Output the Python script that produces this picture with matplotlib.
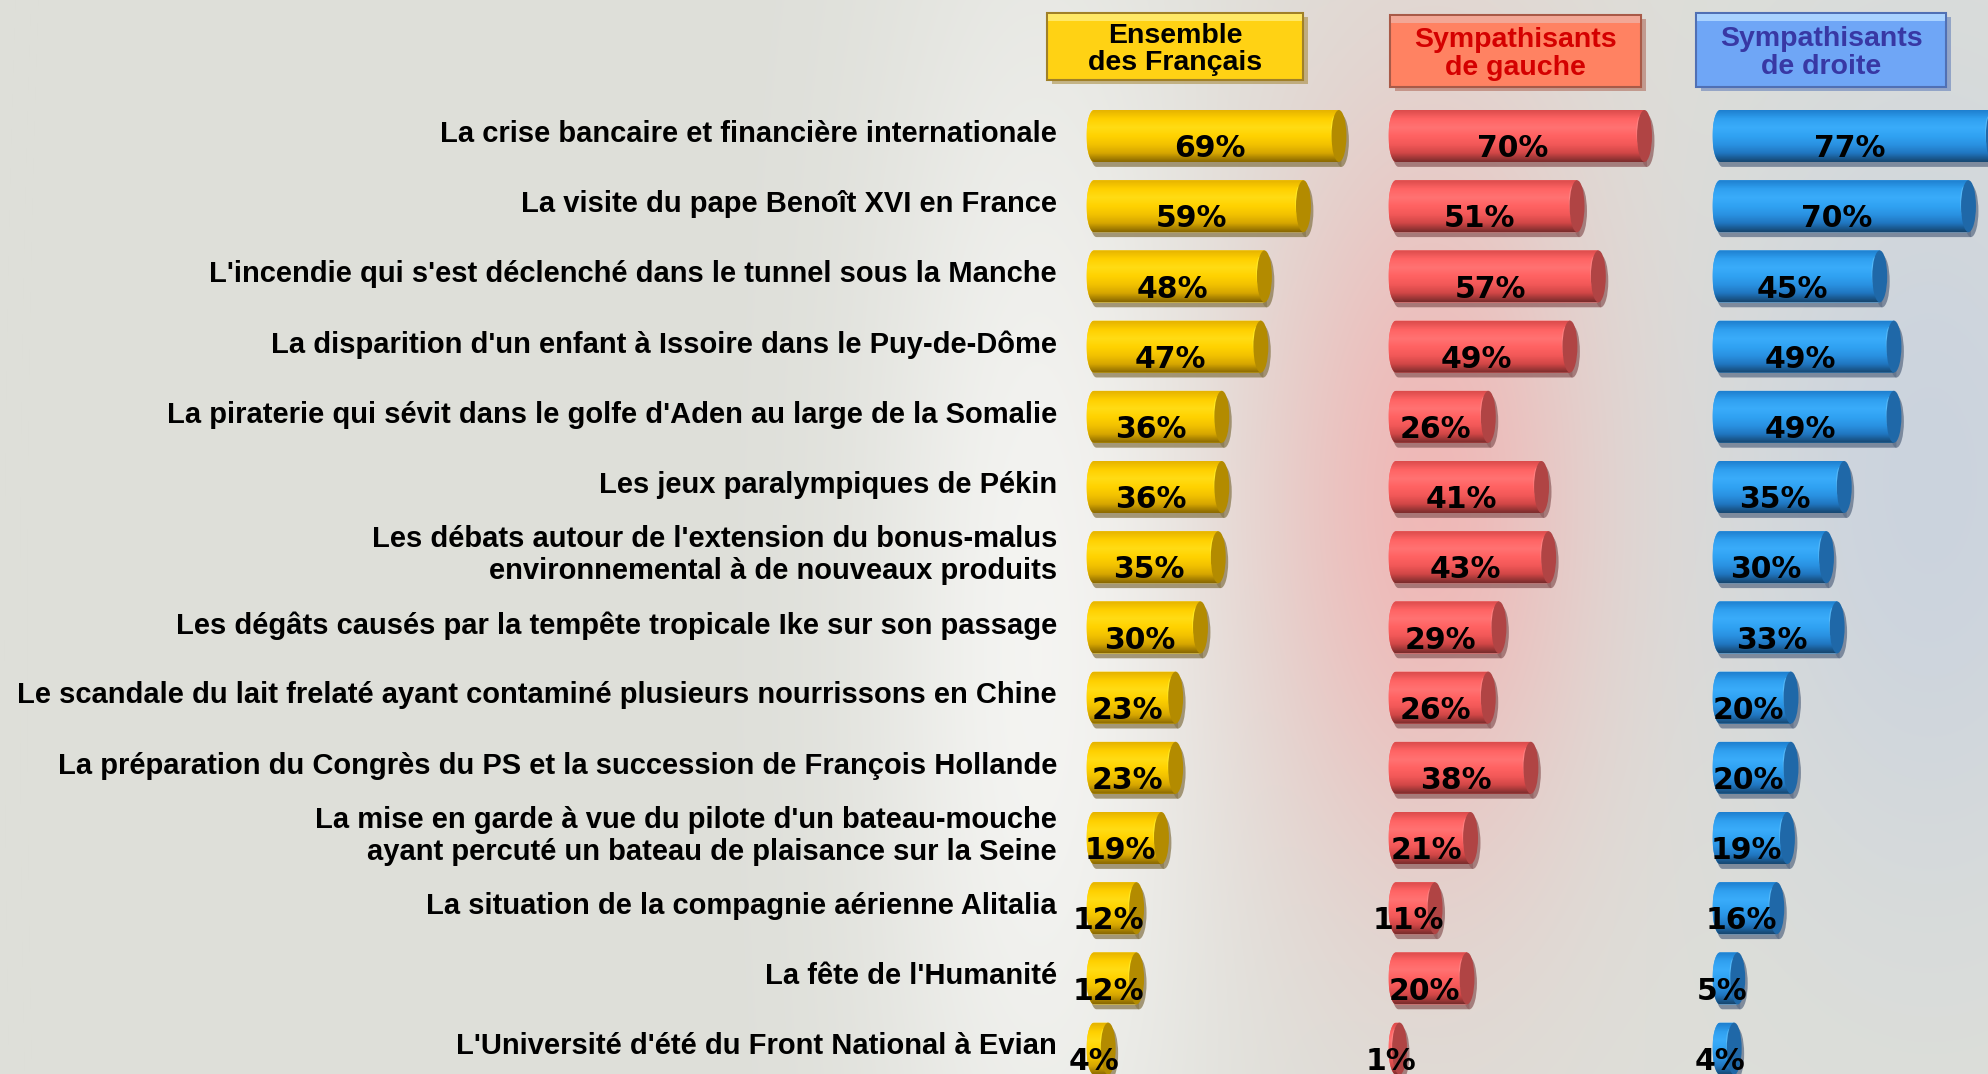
import numpy as np
import matplotlib
matplotlib.use("Agg")
import matplotlib.pyplot as plt
from matplotlib.patches import Ellipse, Polygon, Rectangle
from matplotlib.colors import LinearSegmentedColormap

# data
items = [
    "La crise bancaire et financière internationale",
    "La visite du pape Benoît XVI en France",
    "L'incendie qui s'est déclenché dans le tunnel sous la Manche",
    "La disparition d'un enfant à Issoire dans le Puy-de-Dôme",
    "La piraterie qui sévit dans le golfe d'Aden au large de la Somalie",
    "Les jeux paralympiques de Pékin",
    "Les débats autour de l'extension du bonus-malus\nenvironnemental à de nouveaux produits",
    "Les dégâts causés par la tempête tropicale Ike sur son passage",
    "Le scandale du lait frelaté ayant contaminé plusieurs nourrissons en Chine",
    "La préparation du Congrès du PS et la succession de François Hollande",
    "La mise en garde à vue du pilote d'un bateau-mouche\nayant percuté un bateau de plaisance sur la Seine",
    "La situation de la compagnie aérienne Alitalia",
    "La fête de l'Humanité",
    "L'Université d'été du Front National à Evian",
]
ensemble = [69, 59, 48, 47, 36, 36, 35, 30, 23, 23, 19, 12, 12, 4]
gauche = [70, 51, 57, 49, 26, 41, 43, 29, 26, 38, 21, 11, 20, 1]
droite = [77, 70, 45, 49, 49, 35, 30, 33, 20, 20, 19, 16, 5, 4]
headers = ["Ensemble\ndes Français", "Sympathisants\nde gauche", "Sympathisants\nde droite"]

label_font = ["Liberation Sans", "DejaVu Sans"]

W, H = 1988, 1074
bg = np.array([222, 223, 217]) / 255

fig = plt.figure(figsize=(W / 100, H / 100), dpi=100, facecolor=bg)

# background with soft glows
yy, xx = np.mgrid[0:H, 0:W]
img = np.ones((H, W, 3)) * bg
for cx, cy, sx, sy, col, s in [
    (1040, 650, 120, 520, (248, 248, 246), 0.85),
    (1430, 500, 120, 280, (245, 172, 172), 0.75),
    (1930, 480, 150, 300, (188, 202, 226), 0.55),
]:
    g = (np.exp(-0.5 * (((xx - cx) / sx) ** 2 + ((yy - cy) / sy) ** 2)) * s)[..., None]
    img = img * (1 - g) + np.array(col) / 255 * g

bgax = fig.add_axes([0, 0, 1, 1], zorder=0)
bgax.imshow(img, extent=(0, W, H, 0), aspect="auto")
bgax.set_xlim(0, W)
bgax.set_ylim(H, 0)
bgax.axis("off")

# header boxes (pixel layout)
head_boxes = [(1047, 13, 1303, 80), (1390, 15, 1641, 87), (1696, 13, 1946, 87)]
head_style = [
    ("#ffd214", "#ffe866", "#a08028", "black"),
    ("#ff8262", "#f2a796", "#a85a48", "#d40000"),
    ("#6fa6f6", "#a9d2ff", "#5070b4", "#3838a4"),
]
for (x0, y0, x1, y1), (face, light, dark, tcol), txt in zip(head_boxes, head_style, headers):
    bgax.add_patch(Rectangle((x0 + 5, y0 + 4), x1 - x0, y1 - y0, facecolor=dark, alpha=0.5, lw=0))
    bgax.add_patch(Rectangle((x0, y0), x1 - x0, y1 - y0, facecolor=face, edgecolor=dark, lw=1.5))
    bgax.add_patch(Rectangle((x0 + 1, y0 + 1), x1 - x0 - 2, 7, facecolor=light, lw=0))
    bgax.text((x0 + x1) / 2, (y0 + y1) / 2 + 3, txt, ha="center", va="center",
              color=tcol, fontsize=20.5, fontweight="bold", linespacing=1.08, family=label_font)

# panels
n = len(items)
scale = 3.55  # px per percent
zero_px = [1094, 1396, 1720]
xmin, xmax = -3, 82
row0, step = 136, 70.2
ax_bottom = (H - (row0 + (n - 0.5) * step)) / H
ax_height = n * step / H

palettes = [
    (["#e6b400", "#ffd000", "#ffdc14", "#ffd200", "#f2c200", "#d6a600", "#8a6800"], "#b38b00", "#8a7a50", "#ffff40"),
    (["#dc4c4c", "#ff6464", "#ff7272", "#ff6262", "#f25858", "#d04646", "#7a2c2c"], "#b04444", "#906060", "#ff9a9a"),
    (["#1e80d0", "#30a0f0", "#3aacfa", "#30a2f2", "#2a92e2", "#2076c0", "#164670"], "#1f68a8", "#607088", "#7ad0ff"),
]


def cylinder(ax, y, v, colors, cap, shade, hi):
    h = 0.74
    a = 2.1
    top, bot = y - h / 2, y + h / 2
    t = np.linspace(np.pi / 2, 3 * np.pi / 2, 40)
    pts = np.column_stack([a * np.cos(t), y - (h / 2) * np.sin(t)])
    pts = np.vstack([pts, [[v, bot], [v, top]]])
    # drop shadow
    sh = pts + np.array([0.7, 0.07])
    ax.add_patch(Polygon(sh, closed=True, facecolor=shade, edgecolor="none", alpha=0.75, zorder=1))
    ax.add_patch(Ellipse((v + 0.7, y + 0.07), 2 * a, h, facecolor=shade, edgecolor="none", alpha=0.75, zorder=1))
    body = Polygon(pts, closed=True, facecolor=colors[3], edgecolor="none", zorder=2)
    ax.add_patch(body)
    cmap = LinearSegmentedColormap.from_list("c", colors)
    im = ax.imshow(np.linspace(0, 1, 80).reshape(-1, 1), extent=(-a, v, bot, top),
                   aspect="auto", cmap=cmap, zorder=3, interpolation="bilinear")
    im.set_clip_path(body)
    # glossy spot near the end
    ax.add_patch(Ellipse((v - 1.3 * a * 0.5, y - 0.06), a * 0.9, h * 0.6,
                         facecolor=hi, edgecolor="none", alpha=0.45, zorder=4))
    ax.add_patch(Ellipse((v, y), 2 * a, h, facecolor=cap, edgecolor="none", zorder=5))


for k, (vals, (colors, cap, shade, hi)) in enumerate(zip([ensemble, gauche, droite], palettes)):
    left_px = zero_px[k] + xmin * scale
    ax = fig.add_axes([left_px / W, ax_bottom, (xmax - xmin) * scale / W, ax_height], zorder=2)
    ax.patch.set_alpha(0)
    for i, v in enumerate(vals):
        cylinder(ax, i, v, colors, cap, shade, hi)
        ax.text(v / 2 - 2, i + 0.18, f"{v}%", ha="center", va="center", fontsize=21.5,
                fontweight="bold", color="black", zorder=6, family="DejaVu Sans")
    if k == 0:
        for i, lab in enumerate(items):
            ax.text(-37 / scale, i - 0.03, lab, ha="right", va="center", multialignment="right",
                    fontsize=21, fontweight="bold", color="black", linespacing=1.2,
                    clip_on=False, family=label_font)
    ax.set_xlim(xmin, xmax)
    ax.set_ylim(n - 0.5, -0.5)
    ax.axis("off")

fig.savefig("out.png", dpi=100, facecolor=fig.get_facecolor())
